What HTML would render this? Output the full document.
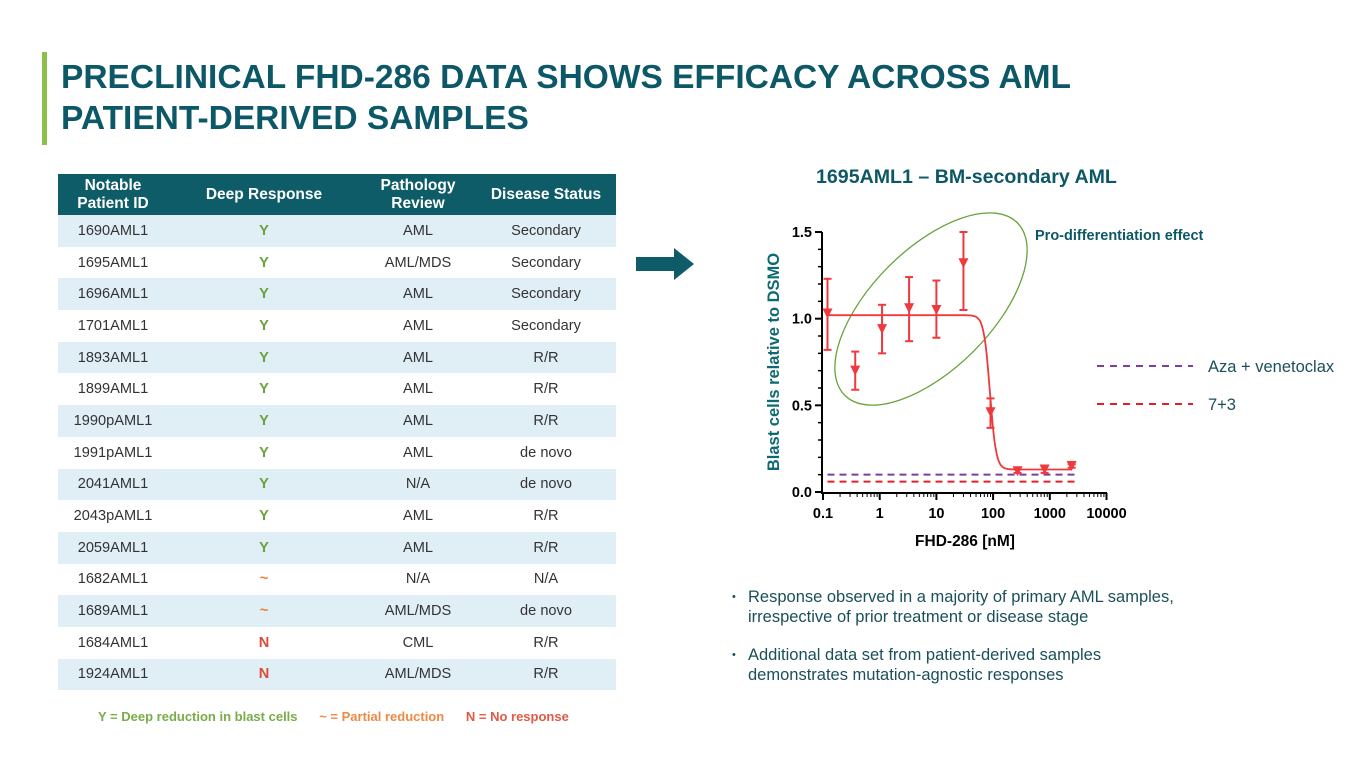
<!DOCTYPE html>
<html><head><meta charset="utf-8">
<style>
body{margin:0;width:1365px;height:768px;background:#fff;font-family:"Liberation Sans",sans-serif;position:relative;overflow:hidden}
.abs{position:absolute}
#title{left:61px;top:57px;font-size:33.5px;font-weight:bold;color:#0d5866;line-height:41px}
table{position:absolute;left:58px;top:174px;border-collapse:collapse;width:558px;font-size:14.6px;color:#333}
th{background:#0e5c68;color:#fff;font-size:15.5px;height:41px;line-height:18px;padding:0;font-weight:bold}
td{height:31.7px;padding:0;text-align:center}
tr.a td{background:#e0eff5}
.Y{color:#6aa23c;font-weight:bold}.T{color:#e8823a;font-weight:bold}.N{color:#e04a35;font-weight:bold}
.bul{font-size:16.5px;color:#1b4f5a;line-height:20px}
.bul span{position:absolute;left:-16px;font-size:11px}
</style></head><body>
<div class="abs" style="left:42px;top:52px;width:5px;height:93px;background:#8cc04a"></div>
<div class="abs" id="title">PRECLINICAL FHD-286 DATA SHOWS EFFICACY ACROSS AML<br>PATIENT-DERIVED SAMPLES</div>
<table>
<colgroup><col style="width:110px"><col style="width:192px"><col style="width:116px"><col style="width:140px"></colgroup>
<tr><th>Notable<br>Patient ID</th><th>Deep Response</th><th>Pathology<br>Review</th><th>Disease Status</th></tr>
<tr class="a"><td>1690AML1</td><td class="Y">Y</td><td>AML</td><td>Secondary</td></tr>
<tr><td>1695AML1</td><td class="Y">Y</td><td>AML/MDS</td><td>Secondary</td></tr>
<tr class="a"><td>1696AML1</td><td class="Y">Y</td><td>AML</td><td>Secondary</td></tr>
<tr><td>1701AML1</td><td class="Y">Y</td><td>AML</td><td>Secondary</td></tr>
<tr class="a"><td>1893AML1</td><td class="Y">Y</td><td>AML</td><td>R/R</td></tr>
<tr><td>1899AML1</td><td class="Y">Y</td><td>AML</td><td>R/R</td></tr>
<tr class="a"><td>1990pAML1</td><td class="Y">Y</td><td>AML</td><td>R/R</td></tr>
<tr><td>1991pAML1</td><td class="Y">Y</td><td>AML</td><td>de novo</td></tr>
<tr class="a"><td>2041AML1</td><td class="Y">Y</td><td>N/A</td><td>de novo</td></tr>
<tr><td>2043pAML1</td><td class="Y">Y</td><td>AML</td><td>R/R</td></tr>
<tr class="a"><td>2059AML1</td><td class="Y">Y</td><td>AML</td><td>R/R</td></tr>
<tr><td>1682AML1</td><td class="T">~</td><td>N/A</td><td>N/A</td></tr>
<tr class="a"><td>1689AML1</td><td class="T">~</td><td>AML/MDS</td><td>de novo</td></tr>
<tr><td>1684AML1</td><td class="N">N</td><td>CML</td><td>R/R</td></tr>
<tr class="a"><td>1924AML1</td><td class="N">N</td><td>AML/MDS</td><td>R/R</td></tr>
</table>
<div class="abs" style="left:98px;top:709px;font-size:13px;font-weight:bold;white-space:pre"><span style="color:#7aac4a">Y = Deep reduction in blast cells</span>      <span style="color:#ec8a45">~ = Partial reduction</span>      <span style="color:#e05a45">N = No response</span></div>
<svg class="abs" style="left:636px;top:248px" width="60" height="32"><polygon points="0,9 38,9 38,0 58,16 38,32 38,23 0,23" fill="#0e5c68"/></svg>
<div class="abs" style="left:816px;top:166px;font-size:19.6px;font-weight:bold;color:#0d5866">1695AML1 – BM-secondary AML</div>
<svg id="chart" class="abs" style="left:0;top:0" width="1365" height="768"></svg>
<div class="abs bul" style="top:587px;left:748px"><span>•</span>Response observed in a majority of primary AML samples,<br>irrespective of prior treatment or disease stage</div>
<div class="abs bul" style="top:645px;left:748px"><span>•</span>Additional data set from patient-derived samples<br>demonstrates mutation-agnostic responses</div>
<script>
const doses=[0.12,0.37,1.1,3.3,10,30,90,270,810,2430];
const means=[1.03,0.70,0.94,1.06,1.05,1.32,0.46,0.12,0.13,0.15];
const errLo=[0.82,0.59,0.80,0.87,0.89,1.05,0.37,0.11,0.11,0.14];
const errHi=[1.23,0.81,1.08,1.24,1.22,1.50,0.54,0.13,0.15,0.16];
const fitTop=1.02,fitBottom=0.13,fitIC50=88,fitHill=8;
const refAza=0.10,ref73=0.06;
const xTicks=[0.1,1,10,100,1000,10000];
const yTicks=[0,0.5,1.0,1.5];
const NS='http://www.w3.org/2000/svg';
const svg=document.getElementById('chart');
const X=v=>823+(Math.log10(v)+1)*56.7;
const Y=v=>492-v/1.5*260;
function el(t,a,p){const e=document.createElementNS(NS,t);for(const k in a)e.setAttribute(k,a[k]);(p||svg).appendChild(e);return e;}
let e=el('ellipse',{cx:931,cy:309,rx:122,ry:60,transform:'rotate(-45 931 309)',fill:'none',stroke:'#6aa23c','stroke-width':1.3});

let t=el('text',{x:1035,y:240,'font-size':14.5,'font-weight':'bold',fill:'#0d5866'});t.textContent='Pro-differentiation effect';

let ax=el('path',{d:`M822,${Y(1.5)} V493 H1107`,stroke:'#000','stroke-width':2,fill:'none'});

yTicks.forEach(v=>{el('line',{x1:815,x2:822,y1:Y(v),y2:Y(v),stroke:'#000','stroke-width':2});
 const tx=el('text',{x:812,y:Y(v)+5,'text-anchor':'end','font-size':14.5,'font-weight':'bold'});tx.textContent=v.toFixed(1);
 });
for(let i=1;i<=14;i++){if(i%5)el('line',{x1:818,x2:822,y1:Y(i*0.1),y2:Y(i*0.1),stroke:'#000','stroke-width':1.5});}
xTicks.forEach((v,i)=>{el('line',{x1:X(v),x2:X(v),y1:493,y2:500,stroke:'#000','stroke-width':2});
 if(i<xTicks.length-1)for(let m=2;m<10;m++){const xx=X(v*m);el('line',{x1:xx,x2:xx,y1:493,y2:497,stroke:'#000','stroke-width':1});}
 const tx=el('text',{x:X(v),y:518,'text-anchor':'middle','font-size':14.5,'font-weight':'bold'});tx.textContent=String(v);
 });
let xt=el('text',{x:965,y:546,'text-anchor':'middle','font-size':15.5,'font-weight':'bold'});xt.textContent='FHD-286 [nM]';

let yt=el('text',{x:0,y:0,transform:'translate(779,362) rotate(-90)','text-anchor':'middle','font-size':16.5,'font-weight':'bold',fill:'#0d6a72'});yt.textContent='Blast cells relative to DSMO';

[[refAza,'#7b3fa0','ref-aza-venetoclax'],[ref73,'#e2202a','ref-7-3']].forEach(r=>{
 const l=el('line',{x1:X(0.12),x2:X(3000),y1:Y(r[0]),y2:Y(r[0]),stroke:r[1],'stroke-width':2,'stroke-dasharray':'7,5'});
 });
let d='';for(let i=0;i<=300;i++){const lx=-0.92+i*(3.39+0.92)/300;const c=Math.pow(10,lx);
 const yv=fitBottom+(fitTop-fitBottom)/(1+Math.pow(c/fitIC50,fitHill));d+=(i?'L':'M')+X(c).toFixed(1)+','+Y(yv).toFixed(1);}
let cv=el('path',{d:d,stroke:'#f0393d','stroke-width':1.8,fill:'none'});

doses.forEach((dv,i)=>{const x=X(dv),y=Y(means[i]);
 const g=el('g',{});
 el('line',{x1:x,x2:x,y1:Y(errLo[i]),y2:Y(errHi[i]),stroke:'#f0393d','stroke-width':2},g);
 [errLo[i],errHi[i]].forEach(v=>el('line',{x1:x-4,x2:x+4,y1:Y(v),y2:Y(v),stroke:'#f0393d','stroke-width':2},g));
 el('polygon',{points:`${x-5},${y-5} ${x+5},${y-5} ${x},${y+5}`,fill:'#f0393d'},g);});
[[366,'#7b3fa0','Aza + venetoclax','legend-aza'],[404,'#e2202a','7+3','legend-7-3']].forEach(r=>{
 const g=el('g',{});
 el('line',{x1:1097,x2:1193,y1:r[0],y2:r[0],stroke:r[1],'stroke-width':2,'stroke-dasharray':'7,6'},g);
 const tx=el('text',{x:1208,y:r[0]+6,'font-size':16.5,fill:'#1b4f5a'},g);tx.textContent=r[2];});
</script>
</body></html>
